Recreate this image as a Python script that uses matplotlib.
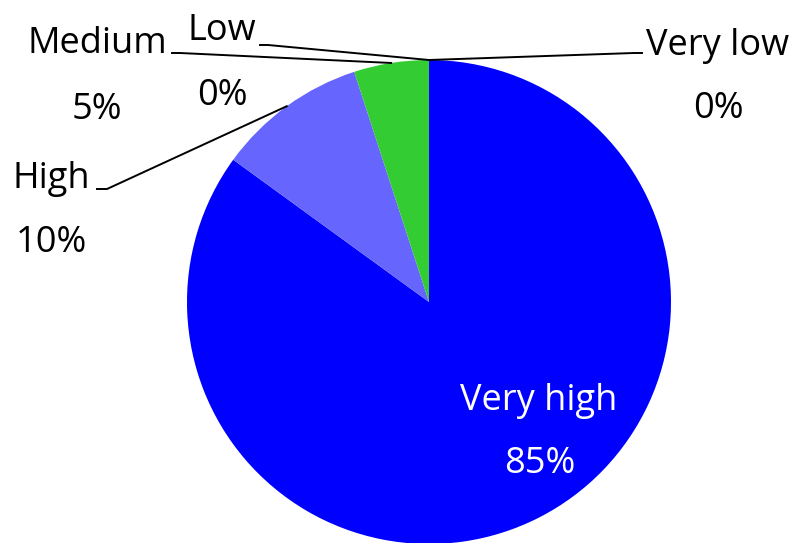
import matplotlib
matplotlib.use("Agg")
import matplotlib.pyplot as plt
import numpy as np

categories = ["Very high", "High", "Medium", "Low", "Very low"]
values = [85, 10, 5, 0, 0]
colors = ["#0000FF", "#6666FF", "#33CC33", "#FFFFFF", "#FFFFFF"]

W, H = 798, 543
CX, CY, R = 429, 302, 242

def p2d(px, py):
    return ((px - CX) / R, (CY - py) / R)

fig = plt.figure(figsize=(W / 100, H / 100), dpi=100)
ax = fig.add_axes([0, 0, 1, 1])

wedges, _ = ax.pie(values, colors=colors, startangle=90, counterclock=False,
                   radius=1, center=(0, 0), wedgeprops=dict(linewidth=0))

ax.set_xlim(p2d(0, 0)[0], p2d(W, 0)[0])
ax.set_ylim(p2d(0, H)[1], p2d(0, 0)[1])
ax.set_aspect("equal", adjustable="datalim")
ax.axis("off")

font = "Open Sans"
fs = 26

# label layout (pixel positions): name baseline, pct baseline, x centre, leader line points
layout = {
    "Medium":   dict(x=97,  nb=53,  pb=119, line=[(172, 53), (180, 53)]),
    "Low":      dict(x=222, nb=40,  pb=105, line=[(260, 45), (268, 45)]),
    "High":     dict(x=51,  nb=188, pb=252, line=[(97, 189), (107, 189)]),
    "Very low": dict(x=718, nb=55,  pb=118, line=[(642, 53), (634, 53)]),
}

for w, cat, val in zip(wedges, categories, values):
    mid = np.deg2rad((w.theta1 + w.theta2) / 2)
    if cat == "Very high":
        x, y = p2d(539, 410)
        ax.text(x, y, cat, ha="center", va="baseline", color="white",
                fontsize=fs, family=font)
        x, y = p2d(540, 473)
        ax.text(x, y, f"{val}%", ha="center", va="baseline", color="white",
                fontsize=fs, family=font)
        continue
    L = layout[cat]
    x, y = p2d(L["x"], L["nb"])
    ax.text(x, y, cat, ha="center", va="baseline", color="black",
            fontsize=fs, family=font)
    x, y = p2d(L["x"], L["pb"])
    ax.text(x, y, f"{val}%", ha="center", va="baseline", color="black",
            fontsize=fs, family=font)
    pts = [p2d(*p) for p in L["line"]]
    pts.append((np.cos(mid), np.sin(mid)))
    xs, ys = zip(*pts)
    ax.plot(xs, ys, color="black", lw=1.4, solid_joinstyle="miter")

fig.savefig("out.png", dpi=100)
